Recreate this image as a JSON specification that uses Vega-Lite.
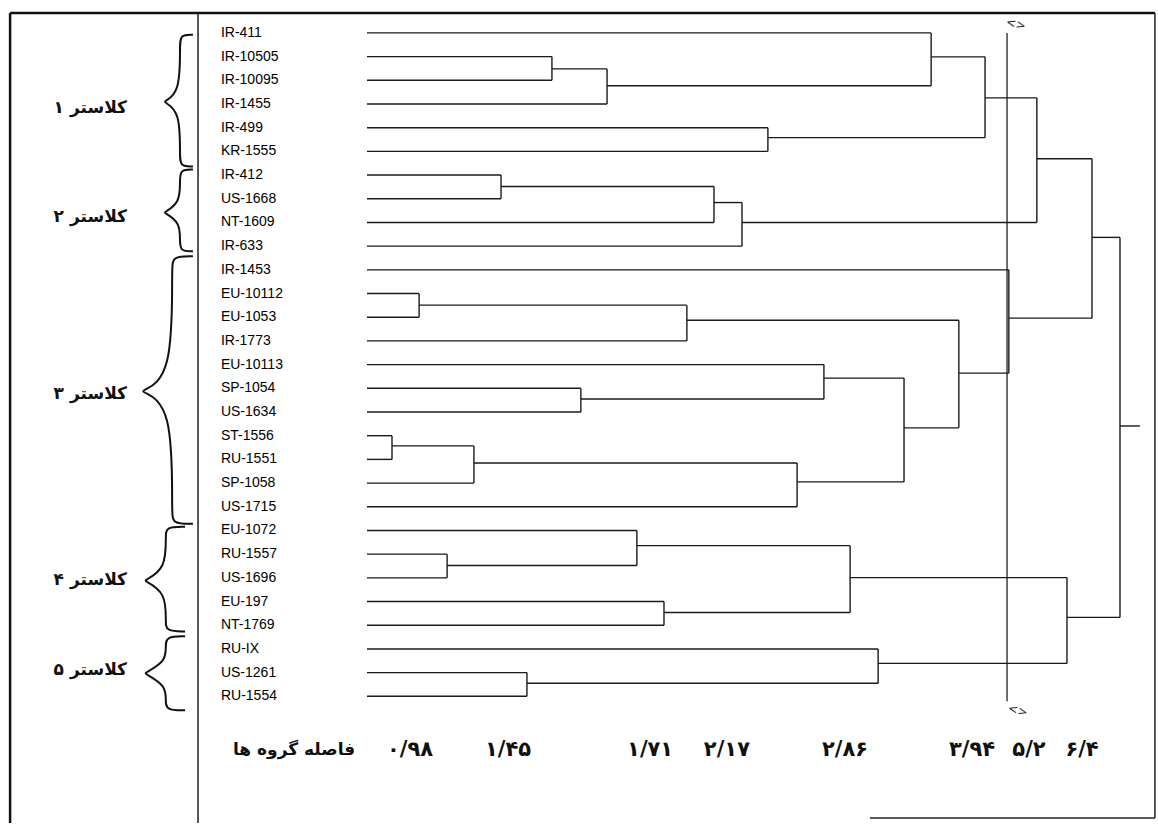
{
  "$schema": "https://vega.github.io/schema/vega-lite/v6.json",
  "width": 1158,
  "height": 825,
  "autosize": {"type": "fit", "contains": "padding"},
  "padding": 0,
  "background": "white",
  "config": {"view": {"stroke": null}},
  "datasets": {
    "frameThick": [
      {"x": -11.85, "x2": 26.16, "y": -0.84, "y2": -0.84},
      {"x": -11.85, "x2": -11.85, "y": -0.84, "y2": 33.35}
    ],
    "frameThin": [
      {"x": -5.61, "x2": -5.61, "y": -0.84, "y2": 33.35},
      {"x": 26.16, "x2": 26.16, "y": -0.84, "y2": 33.14},
      {"x": 16.7, "x2": 26.16, "y": 33.14, "y2": 33.14}
    ],
    "cutoff": [
      {"x": 21.25, "x2": 21.25, "y": 0, "y2": 28.21}
    ],
    "hseg": [
      {"x": 0, "x2": 18.73, "y": 0},
      {"x": 0, "x2": 6.14, "y": 1},
      {"x": 0, "x2": 6.14, "y": 2},
      {"x": 0, "x2": 7.97, "y": 3},
      {"x": 0, "x2": 13.31, "y": 4},
      {"x": 0, "x2": 13.31, "y": 5},
      {"x": 0, "x2": 4.45, "y": 6},
      {"x": 0, "x2": 4.45, "y": 7},
      {"x": 0, "x2": 11.52, "y": 8},
      {"x": 0, "x2": 12.45, "y": 9},
      {"x": 0, "x2": 21.31, "y": 10},
      {"x": 0, "x2": 1.73, "y": 11},
      {"x": 0, "x2": 1.73, "y": 12},
      {"x": 0, "x2": 10.62, "y": 13},
      {"x": 0, "x2": 15.17, "y": 14},
      {"x": 0, "x2": 7.1, "y": 15},
      {"x": 0, "x2": 7.1, "y": 16},
      {"x": 0, "x2": 0.83, "y": 17},
      {"x": 0, "x2": 0.83, "y": 18},
      {"x": 0, "x2": 3.55, "y": 19},
      {"x": 0, "x2": 14.28, "y": 20},
      {"x": 0, "x2": 8.96, "y": 21},
      {"x": 0, "x2": 2.66, "y": 22},
      {"x": 0, "x2": 2.66, "y": 23},
      {"x": 0, "x2": 9.86, "y": 24},
      {"x": 0, "x2": 9.86, "y": 25},
      {"x": 0, "x2": 16.97, "y": 26},
      {"x": 0, "x2": 5.31, "y": 27},
      {"x": 0, "x2": 5.31, "y": 28},
      {"x": 6.14, "x2": 7.97, "y": 1.52},
      {"x": 7.97, "x2": 18.73, "y": 2.23},
      {"x": 18.73, "x2": 20.52, "y": 1.01},
      {"x": 13.31, "x2": 20.52, "y": 4.42},
      {"x": 20.52, "x2": 22.24, "y": 2.74},
      {"x": 4.45, "x2": 11.52, "y": 6.48},
      {"x": 11.52, "x2": 12.45, "y": 7.16},
      {"x": 12.45, "x2": 22.24, "y": 8.0},
      {"x": 22.24, "x2": 24.07, "y": 5.31},
      {"x": 1.73, "x2": 10.62, "y": 11.49},
      {"x": 10.62, "x2": 19.65, "y": 12.13},
      {"x": 7.1, "x2": 15.17, "y": 15.45},
      {"x": 15.17, "x2": 17.83, "y": 14.57},
      {"x": 0.83, "x2": 3.55, "y": 17.43},
      {"x": 3.55, "x2": 14.28, "y": 18.15},
      {"x": 14.28, "x2": 17.83, "y": 18.95},
      {"x": 17.83, "x2": 19.65, "y": 16.67},
      {"x": 19.65, "x2": 21.31, "y": 14.36},
      {"x": 21.31, "x2": 24.07, "y": 12.04},
      {"x": 24.07, "x2": 25.0, "y": 8.63},
      {"x": 2.66, "x2": 8.96, "y": 22.48},
      {"x": 8.96, "x2": 16.04, "y": 21.64},
      {"x": 9.86, "x2": 16.04, "y": 24.46},
      {"x": 16.04, "x2": 23.24, "y": 22.99},
      {"x": 5.31, "x2": 16.97, "y": 27.45},
      {"x": 16.97, "x2": 23.24, "y": 26.61},
      {"x": 23.24, "x2": 25.0, "y": 24.67},
      {"x": 25.0, "x2": 25.66, "y": 16.59}
    ],
    "vseg": [
      {"x": 6.14, "y": 1, "y2": 2},
      {"x": 7.97, "y": 1.52, "y2": 3},
      {"x": 18.73, "y": 0, "y2": 2.23},
      {"x": 13.31, "y": 4, "y2": 5},
      {"x": 20.52, "y": 1.01, "y2": 4.42},
      {"x": 4.45, "y": 6, "y2": 7},
      {"x": 11.52, "y": 6.48, "y2": 8},
      {"x": 12.45, "y": 7.16, "y2": 9},
      {"x": 22.24, "y": 2.74, "y2": 8.0},
      {"x": 1.73, "y": 11, "y2": 12},
      {"x": 10.62, "y": 11.49, "y2": 13},
      {"x": 7.1, "y": 15, "y2": 16},
      {"x": 15.17, "y": 14, "y2": 15.45},
      {"x": 0.83, "y": 17, "y2": 18},
      {"x": 3.55, "y": 17.43, "y2": 19},
      {"x": 14.28, "y": 18.15, "y2": 20},
      {"x": 17.83, "y": 14.57, "y2": 18.95},
      {"x": 19.65, "y": 12.13, "y2": 16.67},
      {"x": 21.31, "y": 10, "y2": 14.36},
      {"x": 24.07, "y": 5.31, "y2": 12.04},
      {"x": 2.66, "y": 22, "y2": 23},
      {"x": 8.96, "y": 21, "y2": 22.48},
      {"x": 9.86, "y": 24, "y2": 25},
      {"x": 16.04, "y": 21.64, "y2": 24.46},
      {"x": 5.31, "y": 27, "y2": 28},
      {"x": 16.97, "y": 26, "y2": 27.45},
      {"x": 23.24, "y": 22.99, "y2": 26.61},
      {"x": 25.0, "y": 8.63, "y2": 24.67}
    ],
    "braces": [
      {"c": 1, "i": 0, "x": -5.78, "y": 0.08},
      {"c": 1, "i": 1, "x": -6.21, "y": 0.08},
      {"c": 1, "i": 2, "x": -6.21, "y": 0.59},
      {"c": 1, "i": 3, "x": -6.21, "y": 2.48},
      {"c": 1, "i": 4, "x": -6.73, "y": 2.91},
      {"c": 1, "i": 5, "x": -6.73, "y": 2.91},
      {"c": 1, "i": 6, "x": -6.21, "y": 3.33},
      {"c": 1, "i": 7, "x": -6.21, "y": 5.14},
      {"c": 1, "i": 8, "x": -6.21, "y": 5.64},
      {"c": 1, "i": 9, "x": -5.78, "y": 5.64},
      {"c": 2, "i": 0, "x": -5.78, "y": 5.77},
      {"c": 2, "i": 1, "x": -6.21, "y": 5.77},
      {"c": 2, "i": 2, "x": -6.21, "y": 6.27},
      {"c": 2, "i": 3, "x": -6.21, "y": 7.16},
      {"c": 2, "i": 4, "x": -6.73, "y": 7.58},
      {"c": 2, "i": 5, "x": -6.73, "y": 7.58},
      {"c": 2, "i": 6, "x": -6.21, "y": 8.0},
      {"c": 2, "i": 7, "x": -6.21, "y": 8.72},
      {"c": 2, "i": 8, "x": -6.21, "y": 9.22},
      {"c": 2, "i": 9, "x": -5.78, "y": 9.22},
      {"c": 3, "i": 0, "x": -5.78, "y": 9.43},
      {"c": 3, "i": 1, "x": -6.47, "y": 9.43},
      {"c": 3, "i": 2, "x": -6.47, "y": 9.94},
      {"c": 3, "i": 3, "x": -6.47, "y": 14.48},
      {"c": 3, "i": 4, "x": -7.47, "y": 15.12},
      {"c": 3, "i": 5, "x": -7.47, "y": 15.12},
      {"c": 3, "i": 6, "x": -6.47, "y": 15.75},
      {"c": 3, "i": 7, "x": -6.47, "y": 20.21},
      {"c": 3, "i": 8, "x": -6.47, "y": 20.72},
      {"c": 3, "i": 9, "x": -5.78, "y": 20.72},
      {"c": 4, "i": 0, "x": -6.04, "y": 20.84},
      {"c": 4, "i": 1, "x": -6.68, "y": 20.84},
      {"c": 4, "i": 2, "x": -6.68, "y": 21.26},
      {"c": 4, "i": 3, "x": -6.68, "y": 22.61},
      {"c": 4, "i": 4, "x": -7.38, "y": 23.12},
      {"c": 4, "i": 5, "x": -7.38, "y": 23.12},
      {"c": 4, "i": 6, "x": -6.68, "y": 23.62},
      {"c": 4, "i": 7, "x": -6.68, "y": 24.84},
      {"c": 4, "i": 8, "x": -6.68, "y": 25.26},
      {"c": 4, "i": 9, "x": -6.04, "y": 25.26},
      {"c": 5, "i": 0, "x": -6.04, "y": 25.47},
      {"c": 5, "i": 1, "x": -6.68, "y": 25.47},
      {"c": 5, "i": 2, "x": -6.68, "y": 25.9},
      {"c": 5, "i": 3, "x": -6.68, "y": 26.53},
      {"c": 5, "i": 4, "x": -7.38, "y": 27.03},
      {"c": 5, "i": 5, "x": -7.38, "y": 27.03},
      {"c": 5, "i": 6, "x": -6.68, "y": 27.54},
      {"c": 5, "i": 7, "x": -6.68, "y": 28.17},
      {"c": 5, "i": 8, "x": -6.68, "y": 28.59},
      {"c": 5, "i": 9, "x": -6.04, "y": 28.59}
    ],
    "leaves": [
      {"label": "IR-411", "x": -4.85, "y": 0},
      {"label": "IR-10505", "x": -4.85, "y": 1},
      {"label": "IR-10095", "x": -4.85, "y": 2},
      {"label": "IR-1455", "x": -4.85, "y": 3},
      {"label": "IR-499", "x": -4.85, "y": 4},
      {"label": "KR-1555", "x": -4.85, "y": 5},
      {"label": "IR-412", "x": -4.85, "y": 6},
      {"label": "US-1668", "x": -4.85, "y": 7},
      {"label": "NT-1609", "x": -4.85, "y": 8},
      {"label": "IR-633", "x": -4.85, "y": 9},
      {"label": "IR-1453", "x": -4.85, "y": 10},
      {"label": "EU-10112", "x": -4.85, "y": 11},
      {"label": "EU-1053", "x": -4.85, "y": 12},
      {"label": "IR-1773", "x": -4.85, "y": 13},
      {"label": "EU-10113", "x": -4.85, "y": 14},
      {"label": "SP-1054", "x": -4.85, "y": 15},
      {"label": "US-1634", "x": -4.85, "y": 16},
      {"label": "ST-1556", "x": -4.85, "y": 17},
      {"label": "RU-1551", "x": -4.85, "y": 18},
      {"label": "SP-1058", "x": -4.85, "y": 19},
      {"label": "US-1715", "x": -4.85, "y": 20},
      {"label": "EU-1072", "x": -4.85, "y": 21},
      {"label": "RU-1557", "x": -4.85, "y": 22},
      {"label": "US-1696", "x": -4.85, "y": 23},
      {"label": "EU-197", "x": -4.85, "y": 24},
      {"label": "NT-1769", "x": -4.85, "y": 25},
      {"label": "RU-IX", "x": -4.85, "y": 26},
      {"label": "US-1261", "x": -4.85, "y": 27},
      {"label": "RU-1554", "x": -4.85, "y": 28}
    ],
    "clusters": [
      {"label": "کلاستر ۱", "x": -7.97, "y": 3.16},
      {"label": "کلاستر ۲", "x": -7.97, "y": 7.79},
      {"label": "کلاستر ۳", "x": -7.97, "y": 15.24},
      {"label": "کلاستر ۴", "x": -7.97, "y": 23.07},
      {"label": "کلاستر ۵", "x": -7.97, "y": 26.9}
    ],
    "ticks": [
      {"label": "۰/۹۸", "x": 1.43, "y": 30.27},
      {"label": "۱/۴۵", "x": 4.68, "y": 30.27},
      {"label": "۱/۷۱", "x": 9.4, "y": 30.27},
      {"label": "۲/۱۷", "x": 11.95, "y": 30.27},
      {"label": "۲/۸۶", "x": 15.87, "y": 30.27},
      {"label": "۳/۹۴", "x": 20.09, "y": 30.27},
      {"label": "۵/۲", "x": 21.98, "y": 30.27},
      {"label": "۶/۴", "x": 23.74, "y": 30.27}
    ],
    "title": [
      {"label": "فاصله گروه ها", "x": -2.42, "y": 30.27}
    ],
    "markers": [
      {"label": "<>", "x": 21.55, "y": -0.38},
      {"label": "<>", "x": 21.61, "y": 28.59}
    ]
  },
  "encoding": {
    "x": {"field": "x", "type": "quantitative", "scale": {"domain": [-12.185, 26.262], "nice": false, "zero": false}, "axis": null},
    "y": {"field": "y", "type": "quantitative", "scale": {"domain": [-1.389, 33.347], "reverse": true, "nice": false, "zero": false}, "axis": null}
  },
  "layer": [
    {
      "data": {"name": "frameThick"},
      "mark": {"type": "rule", "color": "#111", "strokeWidth": 2.5},
      "encoding": {"x2": {"field": "x2"}, "y2": {"field": "y2"}}
    },
    {
      "data": {"name": "frameThin"},
      "mark": {"type": "rule", "color": "#222", "strokeWidth": 1.5},
      "encoding": {"x2": {"field": "x2"}, "y2": {"field": "y2"}}
    },
    {
      "data": {"name": "cutoff"},
      "mark": {"type": "rule", "color": "#222", "strokeWidth": 1.3},
      "encoding": {"x2": {"field": "x2"}, "y2": {"field": "y2"}}
    },
    {
      "data": {"name": "hseg"},
      "mark": {"type": "rule", "color": "#1a1a1a", "strokeWidth": 1.4},
      "encoding": {"x2": {"field": "x2"}}
    },
    {
      "data": {"name": "vseg"},
      "mark": {"type": "rule", "color": "#1a1a1a", "strokeWidth": 1.4},
      "encoding": {"y2": {"field": "y2"}}
    },
    {
      "data": {"name": "braces"},
      "mark": {"type": "line", "interpolate": "basis", "color": "#111", "strokeWidth": 2},
      "encoding": {
        "detail": {"field": "c", "type": "nominal"},
        "order": {"field": "i", "type": "quantitative"}
      }
    },
    {
      "data": {"name": "leaves"},
      "mark": {"type": "text", "align": "left", "baseline": "middle", "font": "Liberation Sans", "fontSize": 14, "color": "#000"},
      "encoding": {"text": {"field": "label"}}
    },
    {
      "data": {"name": "clusters"},
      "mark": {"type": "text", "align": "right", "baseline": "middle", "font": "DejaVu Sans", "fontWeight": "bold", "fontSize": 17, "color": "#111"},
      "encoding": {"text": {"field": "label"}}
    },
    {
      "data": {"name": "ticks"},
      "mark": {"type": "text", "align": "center", "baseline": "middle", "font": "DejaVu Sans", "fontWeight": "bold", "fontSize": 21, "color": "#111"},
      "encoding": {"text": {"field": "label"}}
    },
    {
      "data": {"name": "title"},
      "mark": {"type": "text", "align": "center", "baseline": "middle", "font": "DejaVu Sans", "fontWeight": "bold", "fontSize": 17, "color": "#111"},
      "encoding": {"text": {"field": "label"}}
    },
    {
      "data": {"name": "markers"},
      "mark": {"type": "text", "align": "center", "baseline": "middle", "font": "DejaVu Sans", "fontSize": 12, "angle": 15, "color": "#222"},
      "encoding": {"text": {"field": "label"}}
    }
  ]
}
